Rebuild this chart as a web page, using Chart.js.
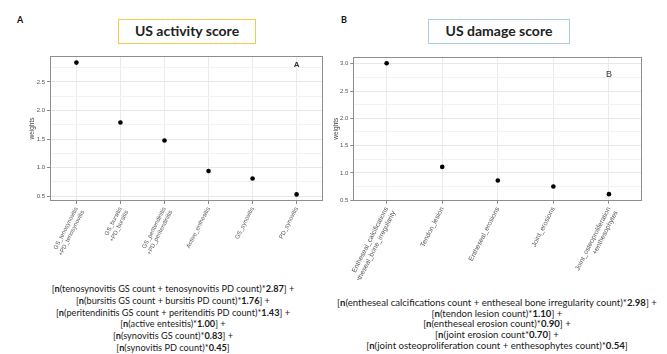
<!DOCTYPE html>
<html>
<head>
<meta charset="utf-8">
<script src="https://cdn.jsdelivr.net/npm/chart.js@4.4.0/dist/chart.umd.min.js"></script>
<style>
  body { margin: 0; width: 667px; height: 354px; background: #fff; position: relative; overflow: hidden; font-family: Lato, "Open Sans", sans-serif; }
  .panel { position: absolute; font-weight: bold; font-size: 9px; color: #111; }
  .ttl { position: absolute; font-weight: bold; font-size: 14px; color: #222; text-align: center; box-sizing: border-box; line-height: 22px; }
  .cv { position: absolute; }
  .formula { position: absolute; text-align: center; color: #1a1a1a; white-space: nowrap; transform: translateX(-50%); }
</style>
</head>
<body>
<div class="panel" style="left:17px;top:14px">A</div>
<div class="ttl" style="left:118px;top:19px;width:138px;height:25px;border:1px solid #f4c84a">US activity score</div>
<div class="panel" style="left:341px;top:14px">B</div>
<div class="ttl" style="left:428px;top:19px;width:142px;height:25px;border:1px solid #a9cbe6">US damage score</div>

<canvas id="activity" class="cv" width="330" height="230" style="left:0;top:50px"></canvas>
<canvas id="damage" class="cv" width="337" height="230" style="left:330px;top:50px"></canvas>

<div class="formula" style="left:173px;top:283px;line-height:11.8px;font-size:9.2px">
[<b>n</b>(tenosynovitis GS count + tenosynovitis PD count)*<b>2.87</b>] +<br>
[<b>n</b>(bursitis GS count + bursitis PD count)*<b>1.76</b>] +<br>
[<b>n</b>(peritendinitis GS count + peritenditis PD count)*<b>1.43</b>] +<br>
[<b>n</b>(active entesitis)*<b>1.00</b>] +<br>
[<b>n</b>(synovitis GS count)*<b>0.83</b>] +<br>
[<b>n</b>(synovitis PD count)*<b>0.45</b>]
</div>
<div class="formula" style="left:497px;top:298px;line-height:10.7px;font-size:9.6px">
[<b>n</b>(entheseal calcifications count + entheseal bone irregularity count)*<b>2.98</b>] +<br>
[<b>n</b>(tendon lesion count)*<b>1.10</b>] +<br>
[<b>n</b>(entheseal erosion count)*<b>0.90</b>] +<br>
[<b>n</b>(joint erosion count*<b>0.70</b>] +<br>
[<b>n</b>(joint osteoproliferation count + enthesophytes count)*<b>0.54</b>]
</div>

<script>
// values
const activityLabels = [
  ["GS_tenosynovitis", "+PD_tenosynovitis"],
  ["GS_bursitis", "+PD_bursitis"],
  ["GS_peritendinitis", "+PD_peritendinitis"],
  "Active_enthesitis",
  "GS_synovitis",
  "PD_synovitis"
];
const activityWeights = [2.84, 1.79, 1.475, 0.94, 0.81, 0.53];

const damageLabels = [
  ["Entheseal_calcifications", "+entheseal_bone_irregularity"],
  "Tendon_lesion",
  "Entheseal_erosions",
  "Joint_erosions",
  ["Joint_osteoproliferation", "+enthesophytes"]
];
const damageWeights = [3.01, 1.11, 0.86, 0.75, 0.61];

// in-panel letters: category position, weight, text
const activityMark = { x: 6, y: 2.8, text: "A", bold: true };
const damageMark = { x: 5, y: 2.8, text: "B", bold: false };

Chart.defaults.font.family = "'Liberation Sans', Arial, sans-serif";

var panelBox = {
  id: 'panelBox',
  afterDatasetsDraw: function (chart) {
    var a = chart.chartArea, ctx = chart.ctx;
    ctx.save();
    ctx.strokeStyle = '#8e8e8e';
    ctx.lineWidth = 1;
    ctx.strokeRect(Math.round(a.left) + 0.5, Math.round(a.top) + 0.5,
      Math.round(a.right - a.left) - 1, Math.round(a.bottom - a.top) - 1);
    var m = chart.options.plugins.panelBox.mark;
    if (m) {
      ctx.fillStyle = '#333';
      ctx.font = (m.bold ? 'bold 8px ' : '9px ') + "'Liberation Sans', Arial, sans-serif";
      ctx.textAlign = 'center';
      ctx.textBaseline = 'middle';
      ctx.fillText(m.text, chart.scales.x.getPixelForValue(m.x), chart.scales.y.getPixelForValue(m.y));
    }
    ctx.restore();
  }
};

function isMajor(v) {
  return Math.abs(v * 2 - Math.round(v * 2)) < 1e-6;
}

function makeChart(id, labels, weights, mark, pad, yWidth, xHeight, labelSize) {
  var lo = Math.min.apply(null, weights), hi = Math.max.apply(null, weights);
  var d = (hi - lo) * 0.05;
  var ymin = lo - d, ymax = hi + d;
  var n = labels.length;

  new Chart(document.getElementById(id), {
    type: 'scatter',
    data: {
      datasets: [{
        data: weights.map(function (w, i) { return { x: i + 1, y: w }; }),
        pointRadius: 2.3,
        pointBackgroundColor: '#000',
        pointBorderWidth: 0
      }]
    },
    options: {
      responsive: false,
      animation: false,
      devicePixelRatio: 1,
      layout: { padding: pad },
      plugins: {
        legend: { display: false },
        tooltip: { enabled: false },
        panelBox: { mark: mark }
      },
      scales: {
        x: {
          type: 'linear',
          min: 0.4,
          max: n + 0.6,
          afterBuildTicks: function (s) {
            s.ticks = labels.map(function (_, i) { return { value: i + 1 }; });
          },
          afterFit: function (s) { s.height = xHeight; },
          ticks: {
            callback: function (v) { return labels[v - 1]; },
            minRotation: 63,
            maxRotation: 63,
            autoSkip: false,
            font: { size: labelSize },
            color: '#555',
            padding: 2
          },
          grid: { color: '#ebebeb', tickLength: 3, tickColor: '#888' },
          border: { display: false }
        },
        y: {
          min: ymin,
          max: ymax,
          afterBuildTicks: function (s) {
            var t = [];
            for (var v = Math.ceil(ymin * 4) / 4; v <= ymax + 1e-9; v += 0.25) t.push({ value: v });
            s.ticks = t;
          },
          afterFit: function (s) { s.width = yWidth; },
          title: { display: true, text: 'weights', font: { size: 6.5 }, color: '#444', padding: 0 },
          ticks: {
            callback: function (v) { return isMajor(v) ? v.toFixed(1) : ''; },
            font: { size: 6 },
            color: '#555',
            padding: 2
          },
          grid: {
            color: function (c) { return isMajor(c.tick.value) ? '#e8e8e8' : '#f2f2f2'; },
            tickLength: 3,
            tickColor: function (c) { return isMajor(c.tick.value) ? '#888' : 'rgba(0,0,0,0)'; }
          },
          border: { display: false }
        }
      }
    },
    plugins: [panelBox]
  });
}

makeChart('activity', activityLabels, activityWeights, activityMark,
  { left: 28, right: 7, top: 6, bottom: 0 }, 22, 79, 6);
makeChart('damage', damageLabels, damageWeights, damageMark,
  { left: 2, right: 24.7, top: 6.7, bottom: 0 }, 21.3, 79.3, 6.8);
</script>
</body>
</html>
